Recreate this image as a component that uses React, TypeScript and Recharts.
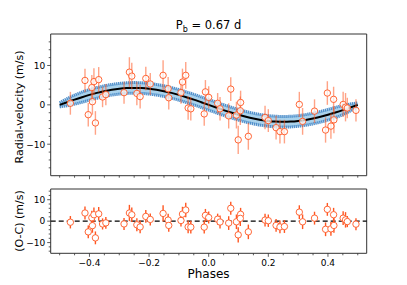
import React from "react";
import {
  ComposedChart,
  Scatter,
  ErrorBar,
  Line,
  Area,
  XAxis,
  YAxis,
  ReferenceArea,
  ReferenceLine,
} from "recharts";

// orbital phase of each RV measurement
const phases = [
  -0.464, -0.415, -0.404, -0.392, -0.39, -0.385, -0.38, -0.369, -0.356, -0.345,
  -0.284, -0.266, -0.258, -0.241, -0.23, -0.211, -0.196, -0.153, -0.136, -0.134,
  -0.093, -0.088, -0.077, -0.069, -0.06, -0.015, -0.011, 0.0, 0.03, 0.038,
  0.067, 0.074, 0.093, 0.099, 0.107, 0.106, 0.133, 0.189, 0.2, 0.226,
  0.239, 0.254, 0.304, 0.315, 0.355, 0.392, 0.398, 0.41, 0.419, 0.42,
  0.451, 0.459, 0.465, 0.494,
];
const rvs = [
  0.4, 6.2, -2.5, 4.4, 0.8, 5.9, -4.6, 6.4, 2.0, 2.6,
  3.1, 8.3, 7.3, 2.9, 2.1, 6.7, 5.3, 7.5, 4.1, 1.8,
  3.1, 5.8, 7.5, -0.8, -1.0, -2.3, 3.3, 1.9, 0.4, -1.0,
  -2.8, 4.0, -2.6, -8.9, 0.6, -1.5, -8.0, -3.2, -4.0, -5.8,
  -6.8, -6.8, 0.1, -4.2, -1.6, -6.4, 3.0, -5.4, 1.4, -3.8,
  0.1, -0.6, -0.8, -1.4,
];
const residuals = [
  -0.5, 3.8, -5.0, 1.6, -2.1, 3.0, -7.8, 3.4, -1.3, -0.8,
  -1.3, 3.8, 3.0, -1.7, -2.7, 2.2, 0.8, 3.6, 0.5, -2.0,
  0.3, 3.3, 5.2, -2.7, -2.8, -2.8, 2.7, 1.7, 0.9, -0.4,
  -0.9, 6.0, -0.3, -6.4, 3.2, 1.3, -5.0, 0.5, 0.2, -2.0,
  -2.7, -2.5, 4.2, -0.3, 1.4, -3.8, 5.5, -3.6, 3.0, -2.0,
  1.4, 0.6, -0.2, -1.4,
];
const errors = [
  2.9, 3.0, 3.0, 3.2, 3.3, 3.4, 3.0, 3.2, 2.6, 2.7,
  2.8, 3.8, 3.4, 3.0, 3.0, 3.0, 2.8, 3.8, 3.0, 3.0,
  2.8, 3.4, 3.4, 3.0, 3.0, 3.0, 3.0, 2.8, 2.6, 3.0,
  3.2, 3.0, 3.4, 3.6, 3.0, 3.6, 3.4, 3.0, 2.9, 3.0,
  3.0, 3.0, 3.2, 3.4, 3.0, 3.2, 3.0, 3.2, 3.2, 3.4,
  3.2, 3.6, 2.6, 2.8,
];

// keplerian model sampled in phase, with the width of its uncertainty band
const modelPhases = [
  -0.5, -0.475, -0.45, -0.425, -0.4, -0.375, -0.35, -0.325, -0.3, -0.275,
  -0.25, -0.225, -0.2, -0.175, -0.15, -0.125, -0.1, -0.075, -0.05, -0.025,
  0.0, 0.025, 0.05, 0.075, 0.1, 0.125, 0.15, 0.175, 0.2, 0.225,
  0.25, 0.275, 0.3, 0.325, 0.35, 0.375, 0.4, 0.425, 0.45, 0.475, 0.5,
];
const modelRv = [
  0.0, 0.67, 1.33, 1.95, 2.53, 3.04, 3.48, 3.83, 4.09, 4.25,
  4.3, 4.25, 4.09, 3.83, 3.48, 3.04, 2.53, 1.95, 1.33, 0.67,
  0.0, -0.67, -1.33, -1.95, -2.53, -3.04, -3.48, -3.83, -4.09, -4.25,
  -4.3, -4.25, -4.09, -3.83, -3.48, -3.04, -2.53, -1.95, -1.33, -0.67, 0.0,
];
const bandHalf = [
  0.5, 0.9, 1.15, 1.3, 1.35, 1.35, 1.35, 1.35, 1.35, 1.35,
  1.35, 1.35, 1.35, 1.35, 1.35, 1.35, 1.35, 1.35, 1.35, 1.35,
  1.35, 1.35, 1.35, 1.35, 1.35, 1.35, 1.35, 1.35, 1.35, 1.35,
  1.35, 1.35, 1.35, 1.35, 1.35, 1.35, 1.35, 1.3, 1.15, 0.9, 0.5,
];

const xMajor = [-0.4, -0.2, 0, 0.2, 0.4];
const xMinor = [-0.5, -0.45, -0.35, -0.3, -0.25, -0.15, -0.1, -0.05, 0.05, 0.1, 0.15, 0.25, 0.3, 0.35, 0.45, 0.5];
const yMajor = [-10, 0, 10];
const yMinorTop = [-16, -14, -12, -8, -6, -4, -2, 2, 4, 6, 8, 12, 14, 16];
const yMinorBottom = [-14, -12, -8, -6, -4, -2, 2, 4, 6, 8, 12, 14];

const points = phases.map((p, i) => ({
  phase: p,
  rv: rvs[i],
  res: residuals[i],
  err: errors[i],
}));
const model = modelPhases.map((p, i) => ({
  phase: p,
  model: modelRv[i],
  band: [modelRv[i] - bandHalf[i], modelRv[i] + bandHalf[i]],
}));

const XDOM: [number, number] = [-0.53, 0.53];
const FONT = "DejaVu Sans, sans-serif";
const ORANGE = "#ff5722";
const FRAME = "#333";

const fmt = (v: number) => (v < 0 ? "\u2212" + Math.abs(v).toFixed(1) : v.toFixed(1));

function XTick(props: any) {
  const { x, y, payload, showLabel } = props;
  const major = xMajor.some((m) => Math.abs(m - payload.value) < 1e-9);
  return (
    <g>
      <line x1={x} x2={x} y1={y} y2={y + (major ? 3.5 : 2)} stroke={FRAME} strokeWidth={0.8} />
      {major && showLabel && (
        <text x={x} y={y + 12.5} textAnchor="middle" fontSize={9} fontFamily={FONT} fill="#000">
          {fmt(payload.value)}
        </text>
      )}
    </g>
  );
}

function YTick(props: any) {
  const { x, y, payload } = props;
  const major = yMajor.includes(payload.value);
  const v = payload.value;
  return (
    <g>
      <line x1={x} x2={x - (major ? 3.5 : 2)} y1={y} y2={y} stroke={FRAME} strokeWidth={0.8} />
      {major && (
        <text x={x - 5.5} y={y + 3.3} textAnchor="end" fontSize={9} fontFamily={FONT} fill="#000">
          {v < 0 ? "\u2212" + Math.abs(v) : v}
        </text>
      )}
    </g>
  );
}

const TopDot = (p: any) => (
  <circle cx={p.cx} cy={p.cy} r={3.2} fill="#fff" fillOpacity={0.72} stroke={ORANGE} strokeWidth={0.9} />
);
const BottomDot = (p: any) => (
  <circle cx={p.cx} cy={p.cy} r={3.2} fill="#fff" stroke={ORANGE} strokeWidth={0.9} />
);

export default function App() {
  const label: React.CSSProperties = {
    position: "absolute",
    fontFamily: FONT,
    color: "#000",
    whiteSpace: "nowrap",
    lineHeight: 1,
  };
  return (
    <div style={{ position: "absolute", left: 0, top: 0, width: 407, height: 285, background: "#fff" }}>
      <div style={{ position: "absolute", left: 0, top: 0 }}>
        <ComposedChart width={407} height={285} data={model} margin={{ top: 34, right: 40.3, bottom: 89.3, left: 0 }}>
          <XAxis
            type="number"
            dataKey="phase"
            domain={XDOM}
            allowDataOverflow
            ticks={[...xMinor, ...xMajor]}
            interval={0}
            height={20}
            tickSize={0}
            tickMargin={0}
            axisLine={false}
            tick={(p: any) => <XTick {...p} showLabel={false} />}
          />
          <YAxis
            type="number"
            domain={[-18, 18]}
            allowDataOverflow
            ticks={[...yMinorTop, ...yMajor]}
            interval={0}
            width={50.7}
            tickSize={0}
            tickMargin={0}
            axisLine={false}
            tick={(p: any) => <YTick {...p} />}
          />
          <Area
            dataKey="band"
            type="monotone"
            fill="#a9d2ec"
            fillOpacity={1}
            stroke="#5190cb"
            strokeWidth={3}
            strokeDasharray="1.4 0.6"
            isAnimationActive={false}
          />
          <Line dataKey="model" type="monotone" stroke="#000" strokeWidth={2} dot={false} isAnimationActive={false} />
          <Scatter data={points} dataKey="rv" shape={TopDot} isAnimationActive={false}>
            <ErrorBar dataKey="err" direction="y" width={0} stroke={ORANGE} strokeOpacity={0.55} strokeWidth={1.4} />
          </Scatter>
          <ReferenceArea x1={XDOM[0]} x2={XDOM[1]} y1={-18} y2={18} fill="none" stroke={FRAME} strokeWidth={1} ifOverflow="visible" />
        </ComposedChart>
      </div>
      <div style={{ position: "absolute", left: 0, top: 0 }}>
        <ComposedChart width={407} height={285} margin={{ top: 189, right: 40.3, bottom: 11.7, left: 0 }}>
          <XAxis
            type="number"
            dataKey="phase"
            domain={XDOM}
            allowDataOverflow
            ticks={[...xMinor, ...xMajor]}
            interval={0}
            height={20}
            tickSize={0}
            tickMargin={0}
            axisLine={false}
            tick={(p: any) => <XTick {...p} showLabel />}
          />
          <YAxis
            type="number"
            domain={[-15, 15]}
            allowDataOverflow
            ticks={[...yMinorBottom, ...yMajor]}
            interval={0}
            width={50.7}
            tickSize={0}
            tickMargin={0}
            axisLine={false}
            tick={(p: any) => <YTick {...p} />}
          />
          <ReferenceLine y={0} stroke="#000" strokeWidth={1.4} strokeDasharray="5 3" />
          <Scatter data={points} dataKey="res" shape={BottomDot} isAnimationActive={false}>
            <ErrorBar dataKey="err" direction="y" width={0} stroke={ORANGE} strokeWidth={1.4} />
          </Scatter>
          <ReferenceArea x1={XDOM[0]} x2={XDOM[1]} y1={-15} y2={15} fill="none" stroke={FRAME} strokeWidth={1} ifOverflow="visible" />
        </ComposedChart>
      </div>
      <div style={{ ...label, left: 208.5, top: 26, fontSize: 11.5, transform: "translate(-50%, -50%)" }}>
        P<span style={{ fontSize: 8, position: "relative", top: 2.5 }}>b</span> = 0.67 d
      </div>
      <div style={{ ...label, left: 18.5, top: 107, fontSize: 11, transform: "translate(-50%, -50%) rotate(-90deg)" }}>
        Radial-velocity (m/s)
      </div>
      <div style={{ ...label, left: 18.5, top: 221, fontSize: 11, transform: "translate(-50%, -50%) rotate(-90deg)" }}>
        (O-C) (m/s)
      </div>
      <div style={{ ...label, left: 208.5, top: 274, fontSize: 12, transform: "translate(-50%, -50%)" }}>
        Phases
      </div>
    </div>
  );
}
